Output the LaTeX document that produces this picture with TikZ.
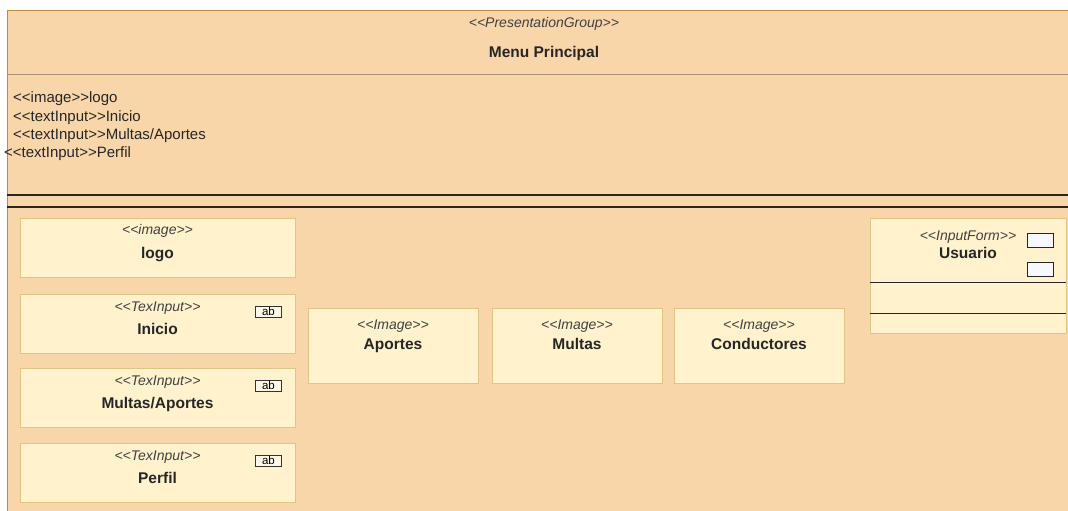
\documentclass[tikz,border=0pt]{standalone}
\usepackage{fontspec}
\setmainfont{Liberation Sans}
\usetikzlibrary{positioning}
\definecolor{grpfill}{HTML}{F9D6AA}
\definecolor{grpedge}{HTML}{C48B3C}
\definecolor{sepgray}{HTML}{A8927A}
\definecolor{elfill}{HTML}{FFF2CD}
\definecolor{eledge}{HTML}{DFC684}
\definecolor{sttext}{HTML}{404040}
\newcommand\stype[1]{<\kern0pt<#1>\kern0pt>}

\begin{document}
\begin{tikzpicture}[x=1pt,y=-1pt,
  stt/.style={font=\fontsize{14}{16}\selectfont\itshape, text=sttext, inner sep=0pt, anchor=base},
  nm/.style={font=\fontsize{15.5}{17}\selectfont\bfseries, text=black!85, inner sep=0pt, anchor=base},
  lst/.style={font=\fontsize{15}{17}\selectfont, text=black!85, inner sep=0pt, anchor=base west},
  grp/.style={draw=grpedge, fill=grpfill, line width=1pt, inner sep=0pt},
  elem/.style={draw=eledge, fill=elfill, line width=0.9pt, inner sep=0pt},
  abbox/.style={draw=black!80, fill=elfill!50!white, line width=0.8pt, minimum width=26pt, minimum height=11pt, inner sep=0pt, font=\fontsize{11.5}{11}\selectfont},
  fld/.style={draw=black!85, fill=blue!3!white, line width=0.9pt, minimum width=26pt, minimum height=14pt, inner sep=0pt},
  hline/.style={line width=1.1pt, color=black!85},
]
\useasboundingbox (0,0) rectangle (1068,511);
\clip (0,0) rectangle (1068,511);
\fill[white] (0,0) rectangle (1068,511);

% presentation group
\node[grp, minimum width=1080pt, minimum height=520pt, anchor=north west] (grp) at (7,10) {};
\node[stt] (grp-st) at (544,28) {\stype{PresentationGroup}};
\node[nm] (grp-nm) at (544,58) {Menu Principal};
\draw[sepgray, line width=0.9pt] ([yshift=-64pt]grp.north west) -- ([yshift=-64pt]grp.north east);
\node[lst] (l1) at (13,102) {\stype{image}logo};
\node[lst] (l2) at (13,121) {\stype{textInput}Inicio};
\node[lst] (l3) at (13,139) {\stype{textInput}Multas/Aportes};
\node[lst] (l4) at (4,157) {\stype{textInput}Perfil};
\draw[hline] ([yshift=-185pt]grp.north west) -- ([yshift=-185pt]grp.north east);
\draw[hline] ([yshift=-197pt]grp.north west) -- ([yshift=-197pt]grp.north east);

% left column
\node[elem, minimum width=275pt, minimum height=59pt] (logo) at (157.5,247.5) {};
\node[stt] (logo-st) at ([yshift=-17pt]logo.north) {\stype{image}};
\node[nm] (logo-nm) at ([yshift=-41pt]logo.north) {logo};
\foreach \n/\y/\t in {ini/323.5/Inicio, mul/397.5/{Multas/Aportes}, per/472.5/Perfil} {
  \node[elem, minimum width=275pt, minimum height=59pt] (\n) at (157.5,\y) {};
  \node[stt] (\n-st) at ([yshift=-18pt]\n.north) {\stype{TexInput}};
  \node[nm] (\n-nm) at ([yshift=-41pt]\n.north) {\t};
  \node[abbox] (\n-ab) at ([xshift=-27pt,yshift=-18pt]\n.north east) {ab};
}

% images
\foreach \n/\x/\t in {apo/393/Aportes, mlt/577/Multas, con/759/Conductores} {
  \node[elem, minimum width=170pt, minimum height=75pt] (\n) at (\x,345.5) {};
  \node[stt] (\n-st) at ([yshift=-22pt]\n.north) {\stype{Image}};
  \node[nm] (\n-nm) at ([yshift=-42pt]\n.north) {\t};
}

% input form
\node[elem, minimum width=196pt, minimum height=115pt] (usr) at (968,275.5) {};
\node[stt] (usr-st) at ([yshift=-23pt]usr.north) {\stype{InputForm}};
\node[nm] (usr-nm) at ([yshift=-41pt]usr.north) {Usuario};
\node[fld] (usr-f1) at ([xshift=-26pt,yshift=-23pt]usr.north east) {};
\node[fld] (usr-f2) at ([xshift=-26pt,yshift=-51.5pt]usr.north east) {};
\draw[hline] ([yshift=-65pt]usr.north west) -- ([yshift=-65pt]usr.north east);
\draw[hline] ([yshift=-96pt]usr.north west) -- ([yshift=-96pt]usr.north east);

\end{tikzpicture}
\end{document}
